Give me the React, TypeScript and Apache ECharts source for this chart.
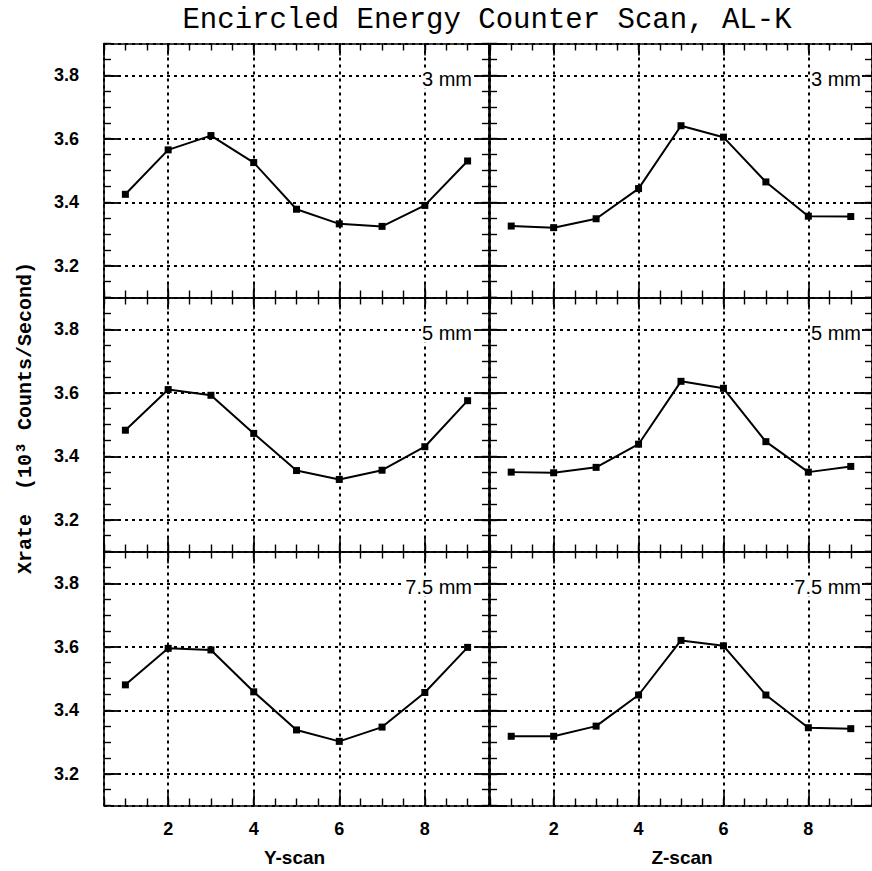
import React, { useEffect, useRef } from "react";
import * as echarts from "echarts";

// ---- data ----
const scanPositions = [1, 2, 3, 4, 5, 6, 7, 8, 9];
const apertureLabels = ["3 mm", "5 mm", "7.5 mm"];
const scanNames = ["Y-scan", "Z-scan"];

const yScan3mm = [3.425, 3.565, 3.61, 3.525, 3.378, 3.332, 3.324, 3.39, 3.53];
const zScan3mm = [3.325, 3.32, 3.348, 3.443, 3.641, 3.605, 3.464, 3.356, 3.355];
const yScan5mm = [3.482, 3.61, 3.592, 3.472, 3.355, 3.327, 3.356, 3.43, 3.575];
const zScan5mm = [3.35, 3.348, 3.365, 3.438, 3.636, 3.614, 3.446, 3.35, 3.368];
const yScan75mm = [3.48, 3.595, 3.59, 3.458, 3.338, 3.302, 3.347, 3.456, 3.598];
const zScan75mm = [3.318, 3.318, 3.35, 3.448, 3.62, 3.603, 3.448, 3.345, 3.342];

const panelValues = [
  [yScan3mm, zScan3mm],
  [yScan5mm, zScan5mm],
  [yScan75mm, zScan75mm],
];

const titleText = "Encircled Energy Counter Scan, AL-K";
const yAxisTitle = "Xrate  (10³ Counts/Second)";

// ---- layout ----
const cols = [
  { left: 104, width: 385 },
  { left: 490, width: 388 },
];
const rowTops = [43.5, 297.5, 551.5];
const rowH = 254;

const SANS = "'Liberation Sans', Arial, Helvetica, sans-serif";
const MONO = "'Liberation Mono', 'Courier New', monospace";

function buildOption() {
  const grids: any[] = [];
  const xAxes: any[] = [];
  const yAxes: any[] = [];
  const series: any[] = [];
  const graphics: any[] = [];

  const lineCol = "#000";
  const dotted = { color: "#000", width: 2, type: [3, 4] };

  let p = 0;
  for (let r = 0; r < 3; r++) {
    for (let c = 0; c < 2; c++) {
      const col = cols[c];
      grids.push({
        left: col.left,
        top: rowTops[r],
        width: col.width,
        height: rowH,
        containLabel: false,
      });
      const isBottom = r === 2;
      const isLeft = c === 0;
      const xBase = { gridIndex: p, type: "value", min: 0.5, max: 9.5 };
      xAxes.push({
        ...xBase,
        interval: 0.5,
        position: "bottom",
        axisLine: { show: true, onZero: false, lineStyle: { color: lineCol, width: 1.6 } },
        axisTick: { show: true, inside: true, length: 7, lineStyle: { color: lineCol, width: 1.4 } },
        axisLabel: { show: false },
        splitLine: { show: false },
      });
      xAxes.push({
        ...xBase,
        interval: 0.5,
        position: "top",
        axisLine: { show: true, onZero: false, lineStyle: { color: lineCol, width: 1.6 } },
        axisTick: { show: true, inside: true, length: 7, lineStyle: { color: lineCol, width: 1.4 } },
        axisLabel: { show: false },
        splitLine: { show: false },
      });
      xAxes.push({
        ...xBase,
        splitNumber: 4,
        position: "bottom",
        axisLine: { show: false, onZero: false },
        axisTick: { show: true, inside: true, length: 14, lineStyle: { color: lineCol, width: 1.6 } },
        axisLabel: {
          show: isBottom,
          showMinLabel: false,
          showMaxLabel: false,
          margin: 14,
          color: "#000",
          fontFamily: SANS,
          fontWeight: "bold",
          fontSize: 18,
          formatter: (v: number) => (v >= 2 && v <= 8 && v % 2 === 0 ? String(v) : ""),
        },
        splitLine: { show: true, lineStyle: dotted },
      });
      xAxes.push({
        ...xBase,
        splitNumber: 4,
        position: "top",
        axisLine: { show: false, onZero: false },
        axisTick: { show: true, inside: true, length: 12, lineStyle: { color: lineCol, width: 1.6 } },
        axisLabel: { show: false },
        splitLine: { show: false },
      });

      const yBase = { gridIndex: p, type: "value", min: 3.1, max: 3.9 };
      yAxes.push({
        ...yBase,
        interval: 0.05,
        position: "left",
        axisLine: { show: true, onZero: false, lineStyle: { color: lineCol, width: 1.6 } },
        axisTick: { show: true, inside: true, length: 7, lineStyle: { color: lineCol, width: 1.4 } },
        axisLabel: { show: false },
        splitLine: { show: false },
      });
      yAxes.push({
        ...yBase,
        interval: 0.05,
        position: "right",
        axisLine: { show: true, onZero: false, lineStyle: { color: lineCol, width: 1.6 } },
        axisTick: { show: true, inside: true, length: 7, lineStyle: { color: lineCol, width: 1.4 } },
        axisLabel: { show: false },
        splitLine: { show: false },
      });
      yAxes.push({
        ...yBase,
        splitNumber: 4,
        position: "left",
        axisLine: { show: false, onZero: false },
        axisTick: { show: true, inside: true, length: 15, lineStyle: { color: lineCol, width: 1.8 } },
        axisLabel: {
          show: isLeft,
          showMinLabel: false,
          showMaxLabel: false,
          margin: 25,
          color: "#000",
          fontFamily: SANS,
          fontWeight: "bold",
          fontSize: 18,
          formatter: (v: number) => {
            const k = Math.round(v * 10);
            return k % 2 === 0 && k >= 32 && k <= 38 ? v.toFixed(1) : "";
          },
        },
        splitLine: { show: true, lineStyle: dotted },
      });
      yAxes.push({
        ...yBase,
        splitNumber: 4,
        position: "right",
        axisLine: { show: false, onZero: false },
        axisTick: { show: true, inside: true, length: 15, lineStyle: { color: lineCol, width: 1.8 } },
        axisLabel: { show: false },
        splitLine: { show: false },
      });

      const vals = panelValues[r][c];
      series.push({
        type: "line",
        xAxisIndex: p * 4,
        yAxisIndex: p * 4,
        data: scanPositions.map((x, i) => [x, vals[i]]),
        symbol: "rect",
        symbolSize: 7,
        showSymbol: true,
        lineStyle: { color: "#000", width: 2 },
        itemStyle: { color: "#000" },
        z: 5,
      });

      graphics.push({
        type: "text",
        z: 100,
        x: col.left + col.width - 16,
        y: rowTops[r] + 35,
        style: {
          text: apertureLabels[r],
          align: "right",
          verticalAlign: "middle",
          fill: "#000",
          font: `20px ${SANS}`,
          backgroundColor: "#fff",
          padding: [0, 1],
        },
      });
      p++;
    }
  }

  for (let c = 0; c < 2; c++) {
    graphics.push({
      type: "text",
      z: 100,
      x: cols[c].left + cols[c].width / 2 - 2,
      y: 857,
      style: {
        text: scanNames[c],
        align: "center",
        verticalAlign: "middle",
        fill: "#000",
        font: `bold 19px ${SANS}`,
      },
    });
  }

  graphics.push({
    type: "text",
    z: 100,
    x: 487,
    y: 20,
    style: {
      text: titleText,
      align: "center",
      verticalAlign: "middle",
      fill: "#000",
      font: `29px ${MONO}`,
    },
  });

  graphics.push({
    type: "text",
    z: 100,
    x: 25,
    y: 418,
    rotation: Math.PI / 2,
    style: {
      text: yAxisTitle,
      align: "center",
      verticalAlign: "middle",
      fill: "#000",
      font: `bold 20px ${MONO}`,
    },
  });

  return {
    animation: false,
    backgroundColor: "#fff",
    grid: grids,
    xAxis: xAxes,
    yAxis: yAxes,
    series,
    graphic: { elements: graphics },
  };
}

export default function App() {
  const ref = useRef<HTMLDivElement>(null);
  useEffect(() => {
    if (!ref.current) return;
    const chart = echarts.init(ref.current, undefined, { renderer: "svg" });
    chart.setOption(buildOption() as any);
    return () => chart.dispose();
  }, []);
  return (
    <div
      ref={ref}
      style={{ position: "fixed", left: 0, top: 0, width: 872, height: 871, background: "#fff" }}
    />
  );
}
